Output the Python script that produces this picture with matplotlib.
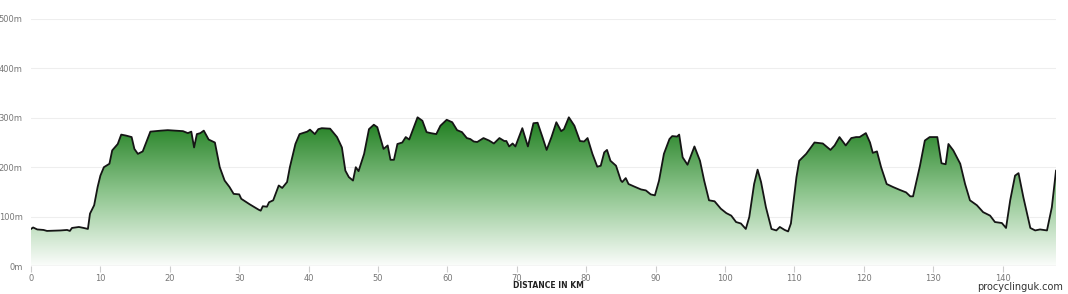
import numpy as np
import matplotlib
matplotlib.use("Agg")
import matplotlib.pyplot as plt
from matplotlib.colors import LinearSegmentedColormap

# elevation profile (km, m)
km = [0, 0.3, 0.9, 1.8, 2.3, 4.3, 5.2, 5.6, 5.9, 6.9, 7.6, 8.2, 8.5, 9.1, 9.6, 10.0,
      10.5, 11.3, 11.7, 12.5, 13.0, 13.7, 14.5, 14.9, 15.4, 16.1, 16.6, 17.2, 18.7, 19.7,
      20.7, 21.9, 22.6, 23.1, 23.5, 23.9, 24.4, 24.9, 25.6, 26.5, 27.2, 27.9, 28.6, 29.2,
      30.0, 30.3, 31.5, 32.8, 33.1, 33.4, 34.0, 34.3, 34.9, 35.7, 36.2, 36.9, 37.3, 38.1,
      38.7, 39.8, 40.2, 40.9, 41.4, 41.9, 43.1, 44.1, 44.8, 45.3, 45.8, 46.4, 46.8, 47.2,
      48.0, 48.7, 49.4, 49.9, 50.8, 51.4, 51.8, 52.3, 52.8, 53.5, 54.0, 54.5, 54.9, 55.7,
      56.4, 57.0, 57.6, 58.4, 59.0, 59.9, 60.7, 61.4, 62.1, 62.8, 63.3, 63.8, 64.3, 65.2,
      66.0, 66.7, 67.5, 68.2, 68.5, 68.9, 69.4, 69.8, 70.8, 71.6, 72.4, 73.0, 73.7, 74.3,
      75.0, 75.7, 76.4, 76.8, 77.5, 78.3, 79.1, 79.7, 80.2, 80.9, 81.6, 82.1, 82.6, 83.0,
      83.5, 84.3, 85.0, 85.2, 85.7, 86.1, 86.9, 87.9, 88.6, 89.3, 89.9, 90.5, 91.2, 92.0,
      92.4, 93.1, 93.4, 93.9, 94.6, 95.6, 96.4, 97.0, 97.7, 98.5, 99.4, 100.2, 100.9,
      101.6, 102.3, 103.0, 103.5, 104.2, 104.7, 105.2, 105.9, 106.7, 107.4, 107.9, 108.6,
      109.1, 109.5, 110.3, 110.7, 111.7, 112.9, 114.1, 115.2, 115.8, 116.5, 117.4, 118.2,
      118.9, 119.4, 120.3, 120.9, 121.3, 121.9, 122.5, 123.3, 124.2, 125.2, 126.1, 126.7,
      127.1, 128.1, 128.8, 129.5, 130.6, 131.2, 131.8, 132.2, 132.9, 133.9, 134.6, 135.3,
      136.3, 137.2, 138.2, 138.9, 139.9, 140.5, 141.1, 141.8, 142.3, 143.0, 144.0, 144.7,
      145.4, 146.4, 147.1, 147.7]
elev = [75, 78, 74, 73, 71, 72, 73, 71, 77, 79, 77, 75, 106, 123, 160, 183,
        200, 207, 234, 247, 266, 264, 261, 237, 227, 232, 250, 272, 274, 275,
        274, 273, 269, 272, 240, 267, 269, 274, 256, 250, 200, 173, 160, 146,
        145, 136, 125, 114, 112, 121, 120, 129, 133, 163, 158, 170, 200, 247,
        267, 272, 276, 267, 277, 279, 278, 261, 240, 193, 180, 173, 200, 192,
        227, 277, 286, 281, 237, 244, 215, 215, 247, 250, 261, 256, 271, 301,
        294, 271, 269, 267, 284, 296, 291, 275, 271, 259, 257, 252, 251, 259,
        254, 248, 259, 253, 253, 242, 248, 242, 279, 242, 289, 290, 261, 235,
        261, 291, 273, 277, 301, 284, 253, 252, 259, 227, 201, 203, 230, 235,
        213, 203, 173, 170, 178, 166, 161, 155, 153, 145, 143, 173, 227, 257,
        263, 262, 266, 220, 205, 242, 213, 173, 133, 131, 116, 107, 102,
        89, 86, 75, 99, 166, 195, 170, 119, 75, 72, 79, 73,
        70, 86, 180, 213, 227, 250, 248, 235, 244, 261, 244, 259,
        261, 261, 269, 250, 229, 232, 200, 166, 160, 154, 149, 141,
        141, 203, 254, 261, 261, 208, 206, 247, 234, 207, 166, 133,
        123, 109, 102, 89, 87, 77, 133, 183, 188, 139, 77, 72,
        74, 72, 119, 193]

y_ticks = [0, 100, 200, 300, 400, 500]
x_ticks = list(range(0, 150, 10))

km = np.array(km)
elev = np.array(elev)

fig = plt.figure(figsize=(10.68, 2.94), dpi=100)
ax = fig.add_axes([31 / 1068, 28 / 294, (1056 - 31) / 1068, (266 - 19) / 294])

xmax = km[-1]
ax.set_xlim(0, xmax)
ax.set_ylim(0, 500)

# gradient fill under the profile
cmap = LinearSegmentedColormap.from_list("g", ["#fbfdfb", "#8cc48c", "#1d7d1d"])
grad = np.linspace(0, 1, 256).reshape(-1, 1)
img = ax.imshow(grad, cmap=cmap, aspect="auto", origin="lower",
                extent=[0, xmax, 0, elev.max()], zorder=1)
poly = ax.fill_between(km, 0, elev, facecolor="none", edgecolor="none")
clip = poly.get_paths()[0]
img.set_clip_path(clip, transform=ax.transData)

ax.plot(km, elev, color="#151515", lw=1.3, zorder=3, solid_joinstyle="round")

for t in y_ticks[1:]:
    ax.axhline(t, color="#eeeeee", lw=0.8, zorder=0)
ax.axhline(0, color="#dddddd", lw=1.0, zorder=2)

for s in ax.spines.values():
    s.set_visible(False)

ax.set_xticks(x_ticks)
ax.set_xticklabels([str(t) for t in x_ticks])
ax.set_yticks(y_ticks)
ax.set_yticklabels([f"{t}m" for t in y_ticks])
ax.tick_params(axis="x", colors="#cccccc", labelcolor="#777777", labelsize=6,
               length=4, width=0.8, pad=2)
ax.tick_params(axis="y", length=0, labelcolor="#777777", labelsize=6, pad=6)

fig.text(548 / 1068, 1 - 286 / 294, "DISTANCE IN KM", ha="center", va="center",
         fontsize=5.5, fontweight="bold", color="#222222")
fig.text(1063 / 1068, 1 - 287 / 294, "procyclinguk.com", ha="right", va="center",
         fontsize=7, color="#333333")

fig.savefig("out.png", dpi=100)
